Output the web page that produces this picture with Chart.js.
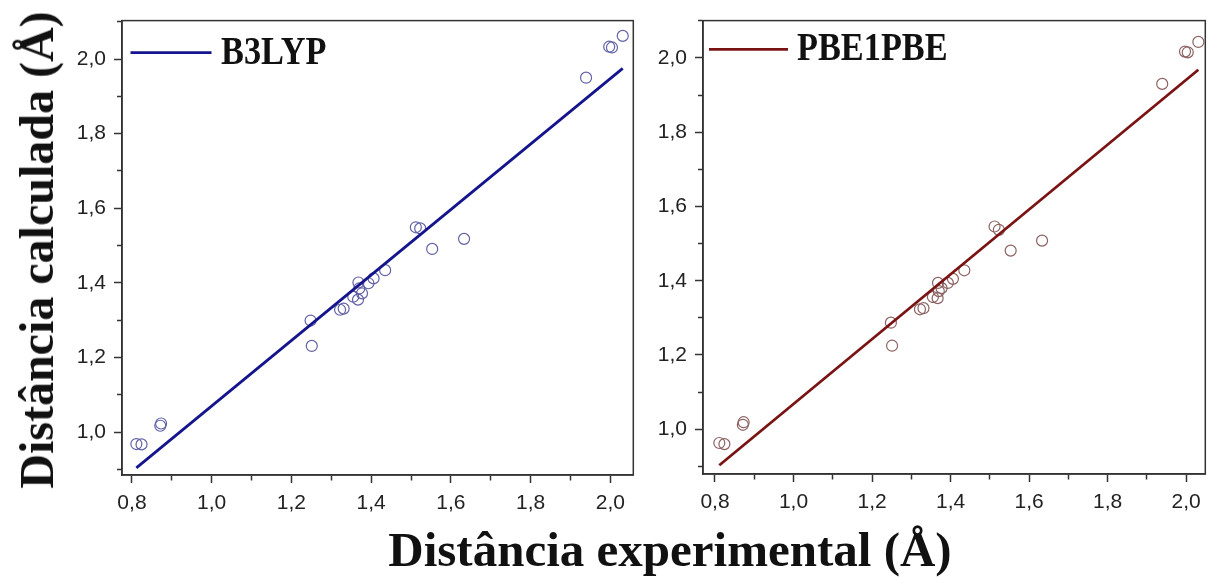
<!DOCTYPE html>
<html>
<head>
<meta charset="utf-8">
<script src="https://cdn.jsdelivr.net/npm/chart.js@4.4.1/dist/chart.umd.min.js"></script>
<style>
  body { margin: 0; background: #fff; width: 1212px; height: 577px; overflow: hidden; position: relative; }
  canvas { position: absolute; top: 0; }
  .titulo { position: absolute; font-family: "Liberation Serif", "Times New Roman", serif; font-weight: bold;
            line-height: 48px; white-space: nowrap; color: #111; }
  #tituloY { font-size: 48px; left: 37px; top: 250px; transform: translate(-50%, -50%) rotate(-90deg); }
  #tituloX { font-size: 49px; left: 670px; top: 526px; transform: translateX(-50%); }
</style>
</head>
<body>
<canvas id="grafB3LYP" width="640" height="530" style="left:0"></canvas>
<canvas id="grafPBE" width="572" height="530" style="left:640px"></canvas>
<div class="titulo" id="tituloY">Distância calculada (Å)</div>
<div class="titulo" id="tituloX">Distância experimental (Å)</div>

<script>
// distâncias experimentais (Å), iguais nos dois painéis
const experimental = [0.811, 0.824, 0.871, 0.873, 1.248, 1.251, 1.322, 1.331, 1.355, 1.367, 1.370, 1.368,
                      1.377, 1.393, 1.406, 1.435, 1.512, 1.523, 1.553, 1.633, 1.939, 1.997, 2.004, 2.031];
// distâncias calculadas
const calcB3LYP = [0.968, 0.967, 1.017, 1.023, 1.299, 1.231, 1.328, 1.331, 1.363, 1.355, 1.385, 1.401,
                   1.372, 1.399, 1.412, 1.434, 1.549, 1.546, 1.491, 1.518, 1.950, 2.033, 2.031, 2.062];
const calcPBE1PBE = [0.963, 0.960, 1.012, 1.019, 1.287, 1.225, 1.323, 1.326, 1.356, 1.353, 1.372, 1.394,
                     1.380, 1.394, 1.405, 1.428, 1.546, 1.537, 1.481, 1.508, 1.930, 2.017, 2.015, 2.043];
// retas de ajuste (extremos)
const ajusteX = [0.811, 2.031];
const ajusteB3LYP = [0.904, 1.975];
const ajustePBE1PBE = [0.903, 1.968];

const passo = 0.1;
const ehMaior = v => Math.round(v * 10) % 2 === 0;
const rotulo = v => ehMaior(v) ? v.toFixed(1).replace('.', ',') : '';

const corEixo = '#333';
const fonteTicks = { family: '"Liberation Sans", Arial, sans-serif', size: 21 };

// moldura completa em volta da área do gráfico
const moldura = {
  id: 'moldura',
  beforeDatasetsDraw(chart) {
    const { ctx, chartArea: a } = chart;
    ctx.save();
    ctx.strokeStyle = corEixo;
    ctx.lineWidth = 1.5;
    ctx.strokeRect(a.left, a.top, a.right - a.left, a.bottom - a.top);
    ctx.restore();
  }
};

// legenda desenhada dentro da área do gráfico
const legenda = {
  id: 'legenda',
  afterDraw(chart, args, o) {
    const { ctx, chartArea: a } = chart;
    const ds = chart.data.datasets[0];
    ctx.save();
    ctx.strokeStyle = ds.borderColor;
    ctx.lineWidth = 2.8;
    ctx.beginPath();
    ctx.moveTo(a.left + o.x0, a.top + o.yLinha);
    ctx.lineTo(a.left + o.x1, a.top + o.yLinha);
    ctx.stroke();
    ctx.font = 'bold 39px "Liberation Serif", "Times New Roman", serif';
    ctx.fillStyle = '#111';
    ctx.translate(a.left + o.xTexto, a.top + o.yTexto);
    ctx.scale(0.88, 1);
    ctx.fillText(ds.label, 0, 0);
    ctx.restore();
  }
};

function montaPainel(id, nome, valores, ajuste, cores, caixa) {
  const pontos = experimental.map((x, i) => ({ x: x, y: valores[i] }));
  const reta = ajusteX.map((x, i) => ({ x: x, y: ajuste[i] }));
  return new Chart(document.getElementById(id), {
    type: 'scatter',
    data: {
      datasets: [
        { label: nome, data: reta, showLine: true, borderColor: cores.linha, borderWidth: 2.8, pointRadius: 0 },
        { label: nome + ' pontos', data: pontos, pointRadius: 5.5, pointBorderWidth: 1.2,
          pointBorderColor: cores.ponto, pointBackgroundColor: 'rgba(0,0,0,0)' }
      ]
    },
    options: {
      responsive: false,
      animation: false,
      events: [],
      layout: { padding: { top: caixa.topo, right: caixa.direita, left: 0, bottom: 0 } },
      plugins: { legend: { display: false }, tooltip: { enabled: false }, legenda: caixa.legenda },
      scales: {
        x: {
          type: 'linear', min: caixa.xMin, max: caixa.xMax,
          afterFit(s) { s.height = caixa.altX; },
          border: { display: true, color: corEixo, width: 1.5 },
          grid: { drawOnChartArea: false, drawTicks: true, tickLength: 8, tickColor: corEixo, tickWidth: 1.5,
                  tickBorderDash: c => ehMaior(c.tick.value) ? [] : [5, 100] },
          ticks: { stepSize: passo, includeBounds: false, autoSkip: false, maxRotation: 0, padding: 8,
                   color: '#222', font: fonteTicks, callback: rotulo }
        },
        y: {
          type: 'linear', min: caixa.yMin, max: caixa.yMax,
          afterFit(s) { s.width = caixa.largY; },
          border: { display: true, color: corEixo, width: 1.5 },
          grid: { drawOnChartArea: false, drawTicks: true, tickLength: 8, tickColor: corEixo, tickWidth: 1.5,
                  tickBorderDash: c => ehMaior(c.tick.value) ? [] : [0, 3, 5, 100] },
          ticks: { stepSize: passo, includeBounds: false, autoSkip: false, padding: 8,
                   color: '#222', font: fonteTicks, callback: rotulo }
        }
      }
    },
    plugins: [moldura, legenda]
  });
}

montaPainel('grafB3LYP', 'B3LYP', calcB3LYP, ajusteB3LYP,
  { linha: '#14148c', ponto: '#6262a6' },
  { topo: 16, direita: 4, altX: 55, largY: 122, xMin: 0.775, xMax: 2.0575, yMin: 0.885, yMax: 2.103,
    legenda: { x0: 8.5, x1: 89.5, yLinha: 32, xTexto: 99, yTexto: 43 } });

montaPainel('grafPBE', 'PBE1PBE', calcPBE1PBE, ajustePBE1PBE,
  { linha: '#7a1414', ponto: '#8c6262' },
  { topo: 18, direita: 2, altX: 56, largY: 63, xMin: 0.7695, xMax: 2.0487, yMin: 0.8795, yMax: 2.1004,
    legenda: { x0: 6, x1: 85, yLinha: 28.7, xTexto: 94, yTexto: 39 } });
</script>
</body>
</html>
